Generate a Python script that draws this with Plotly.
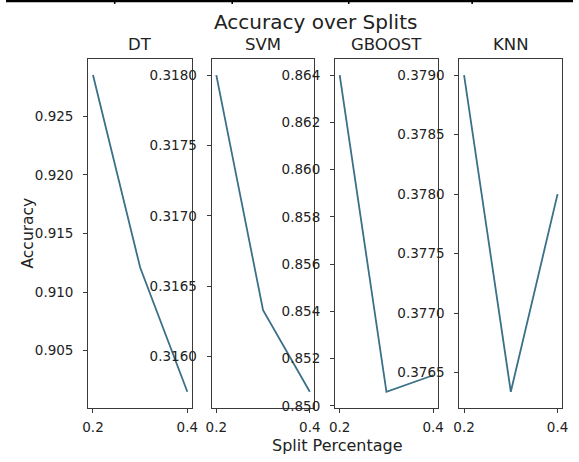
import plotly.graph_objects as go

W, H = 579, 462

splits = [0.2, 0.3, 0.4]
models = ["DT", "SVM", "GBOOST", "KNN"]
dt_acc = [0.9285, 0.9121, 0.9015]
svm_acc = [0.3180, 0.31633, 0.31575]
gboost_acc = [0.8640, 0.8506, 0.8513]
knn_acc = [0.3790, 0.37634, 0.3780]
series = [dt_acc, svm_acc, gboost_acc, knn_acc]

dt_ticks = [0.905, 0.910, 0.915, 0.920, 0.925]
svm_ticks = [0.3160, 0.3165, 0.3170, 0.3175, 0.3180]
gboost_ticks = [0.850, 0.852, 0.854, 0.856, 0.858, 0.860, 0.862, 0.864]
knn_ticks = [0.3765, 0.3770, 0.3775, 0.3780, 0.3785, 0.3790]
ytick_sets = [dt_ticks, svm_ticks, gboost_ticks, knn_ticks]
ytick_fmt = ["{:.3f}", "{:.4f}", "{:.3f}", "{:.4f}"]
xtick_vals = [0.2, 0.4]
xtick_text = ["0.2", "0.4"]

# pixel layout
x_px = [(84, 190), (210, 315), (336, 441), (463, 568)]
y_top, y_bot = 60, 413

def px_x(p):
    return p / W

def px_y(p):
    return 1 - p / H

font = "DejaVu Sans"
line_color = "#3a7088"
frame_color = "#3a3a3a"

fig = go.Figure()
layout = dict(
    width=W, height=H,
    margin=dict(l=0, r=0, t=0, b=0),
    paper_bgcolor="white", plot_bgcolor="rgba(0,0,0,0)",
    showlegend=False,
    font=dict(family=font, size=13, color="#222"),
)

for i, (name, ys) in enumerate(zip(models, series)):
    sfx = "" if i == 0 else str(i + 1)
    fig.add_trace(go.Scatter(
        x=splits, y=ys, mode="lines",
        line=dict(color=line_color, width=1.8),
        xaxis="x" + sfx, yaxis="y" + sfx, hoverinfo="skip",
    ))
    lo, hi = min(ys), max(ys)
    m = 0.05 * (hi - lo)
    xr = (max(splits) - min(splits)) * 0.05
    layout["xaxis" + sfx] = dict(
        domain=[px_x(x_px[i][0]), px_x(x_px[i][1])],
        anchor="y" + sfx,
        range=[min(splits) - xr, max(splits) + xr],
        tickvals=xtick_vals, ticktext=xtick_text,
        ticks="outside", ticklen=4, tickcolor=frame_color,
        ticklabelstandoff=3,
        showline=True, linecolor=frame_color, linewidth=1.2, mirror=True,
        showgrid=False, zeroline=False,
        tickfont=dict(size=13.5, color="#222"),
    )
    layout["yaxis" + sfx] = dict(
        domain=[px_y(y_bot), px_y(y_top)],
        anchor="x" + sfx,
        range=[lo - m, hi + m],
        tickvals=ytick_sets[i],
        ticktext=[ytick_fmt[i].format(v) for v in ytick_sets[i]],
        ticks="outside", ticklen=4, tickcolor=frame_color,
        ticklabelstandoff=7,
        showline=True, linecolor=frame_color, linewidth=1.2, mirror=True,
        showgrid=False, zeroline=False,
        tickfont=dict(size=13.5, color="#222"),
    )

annotations = []
for i, name in enumerate(models):
    cx = (x_px[i][0] + x_px[i][1]) / 2
    annotations.append(dict(
        text=name, x=px_x(cx), y=px_y(45), xref="paper", yref="paper",
        xanchor="center", yanchor="middle", showarrow=False,
        font=dict(size=16.5, color="#222", family=font),
    ))
annotations.append(dict(
    text="Accuracy over Splits", x=px_x(316), y=px_y(22), xref="paper", yref="paper",
    xanchor="center", yanchor="middle", showarrow=False,
    font=dict(size=20, color="#222", family=font),
))
annotations.append(dict(
    text="Accuracy", x=px_x(22), y=px_y(236), xref="paper", yref="paper",
    xanchor="center", yanchor="middle", showarrow=False, textangle=-90,
    font=dict(size=15.5, color="#222", family=font),
))
annotations.append(dict(
    text="Split Percentage", x=px_x(339), y=px_y(451), xref="paper", yref="paper",
    xanchor="center", yanchor="middle", showarrow=False,
    font=dict(size=16, color="#222", family=font),
))
layout["annotations"] = annotations

# table-border remnants at top
shapes = [dict(type="rect", xref="paper", yref="paper",
               x0=0, x1=1, y0=px_y(2.3), y1=1,
               fillcolor="black", line=dict(width=0))]
for vx in [111, 231, 350, 476]:
    shapes.append(dict(type="rect", xref="paper", yref="paper",
                       x0=px_x(vx - 0.8), x1=px_x(vx + 0.8), y0=px_y(4), y1=1,
                       fillcolor="black", line=dict(width=0)))
layout["shapes"] = shapes

fig.update_layout(**layout)
fig.write_html("out.html")
